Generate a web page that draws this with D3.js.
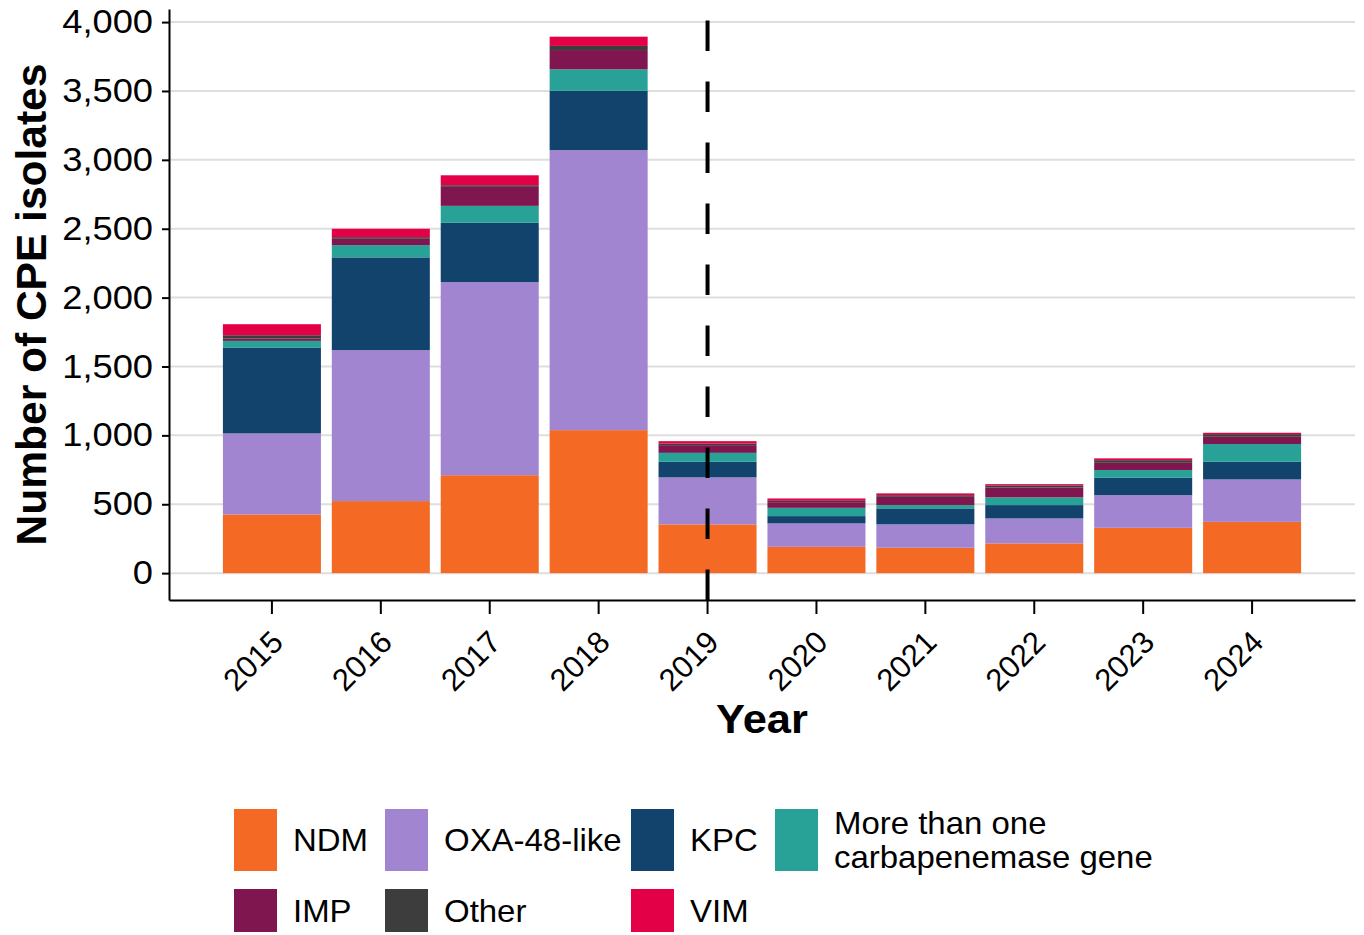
<!DOCTYPE html>
<html>
<head>
<meta charset="utf-8">
<script src="https://cdn.jsdelivr.net/npm/d3@7"></script>
<style>
  body { margin: 0; background: #fff; }
  text { font-family: "Liberation Sans", Arial, sans-serif; fill: #000; }
</style>
</head>
<body>
<svg id="chart" width="1364" height="935"></svg>
<script>
// years on the x axis
const years = ["2015", "2016", "2017", "2018", "2019", "2020", "2021", "2022", "2023", "2024"];

// isolates per carbapenemase group, one value per year
const ndm   = [426, 523, 711, 1038, 354, 191, 184, 216, 329, 372];
const oxa48 = [588, 1096, 1402, 2033, 341, 170, 170, 181, 237, 308];
const kpc   = [624, 673, 430, 430, 113, 53, 116, 97, 126, 128];
const multi = [48, 89, 123, 156, 65, 60, 24, 56, 56, 129];
const imp   = [17, 46, 138, 140, 56, 41, 60, 72, 53, 53];
const other = [24, 12, 12, 30, 12, 10, 12, 15, 19, 19];
const vim   = [80, 61, 72, 67, 17, 17, 13, 9, 13, 10];

const yTicks = [0, 500, 1000, 1500, 2000, 2500, 3000, 3500, 4000];
const markerYear = "2019";

const series = [
    {key: "NDM", label: ["NDM"], values: ndm, color: "#F46A25"},
    {key: "OXA", label: ["OXA-48-like"], values: oxa48, color: "#A285D1"},
    {key: "KPC", label: ["KPC"], values: kpc, color: "#12436D"},
    {key: "MULTI", label: ["More than one", "carbapenemase gene"], values: multi, color: "#28A197"},
    {key: "IMP", label: ["IMP"], values: imp, color: "#801650"},
    {key: "OTHER", label: ["Other"], values: other, color: "#3D3D3D"},
    {key: "VIM", label: ["VIM"], values: vim, color: "#E40046"}
];

// panel edges
const panelLeft = 169, panelRight = 1355, panelTop = 9, panelBottom = 600;

var svg = d3.select("#chart");

var x = d3.scaleBand()
    .domain(years)
    .range([panelLeft, panelRight])
    .paddingInner(0.1)
    .paddingOuter(0.495);

var y = d3.scaleLinear()
    .domain([-195, 4095])
    .range([panelBottom, panelTop]);

// table for d3.stack
var rows = years.map(function(yr, i){
    var row = {year: yr};
    series.forEach(function(s){ row[s.key] = s.values[i]; });
    return row;
});
var stacked = d3.stack().keys(series.map(function(s){ return s.key; }))(rows);

// gridlines
svg.append("g")
    .selectAll("line")
    .data(yTicks)
    .join("line")
    .attr("x1", panelLeft)
    .attr("x2", panelRight)
    .attr("y1", function(d){ return y(d); })
    .attr("y2", function(d){ return y(d); })
    .attr("stroke", "#DEDEDE")
    .attr("stroke-width", 2);

// bars
svg.append("g")
    .selectAll("g")
    .data(stacked)
    .join("g")
    .attr("fill", function(d, i){ return series[i].color; })
    .selectAll("rect")
    .data(function(d){ return d; })
    .join("rect")
    .attr("x", function(d){ return x(d.data.year); })
    .attr("width", x.bandwidth())
    .attr("y", function(d){ return y(d[1]); })
    .attr("height", function(d){ return y(d[0]) - y(d[1]); });

// dashed marker line
var mx = x(markerYear) + x.bandwidth() / 2;
svg.append("line")
    .attr("x1", mx)
    .attr("x2", mx)
    .attr("y1", panelBottom)
    .attr("y2", panelTop)
    .attr("stroke", "#000")
    .attr("stroke-width", 4)
    .attr("stroke-dasharray", "30.5,30.5");

// y axis
var yAxis = svg.append("g")
    .attr("transform", "translate(" + panelLeft + ",0)")
    .call(d3.axisLeft(y)
        .tickValues(yTicks)
        .tickFormat(d3.format(","))
        .tickSize(7)
        .tickSizeOuter(0));
yAxis.select(".domain").attr("stroke", "#000").attr("stroke-width", 2);
yAxis.selectAll(".tick line").attr("stroke", "#000").attr("stroke-width", 2);
// labels are a little wider in the original, so stretch them sideways
yAxis.selectAll(".tick text")
    .attr("x", 0)
    .attr("font-size", 33)
    .attr("fill", "#1a1a1a")
    .attr("transform", "translate(-16,0) scale(1.1,1)")
    .style("font-family", "Liberation Sans, Arial, sans-serif");

// x axis
var xAxis = svg.append("g")
    .attr("transform", "translate(0," + panelBottom + ")")
    .call(d3.axisBottom(x).tickSize(14).tickSizeOuter(0));
xAxis.select(".domain").attr("stroke", "#000").attr("stroke-width", 2);
xAxis.selectAll(".tick line").attr("stroke", "#000").attr("stroke-width", 2);
xAxis.selectAll(".tick text")
    .attr("font-size", 31)
    .attr("fill", "#1a1a1a")
    .attr("y", 0)
    .attr("dy", 0)
    .attr("text-anchor", "end")
    .attr("transform", "translate(13,44) rotate(-45)")
    .style("font-family", "Liberation Sans, Arial, sans-serif");

// axis titles
svg.append("text")
    .attr("transform", "translate(" + (panelLeft + panelRight) / 2 + ",733) scale(1.06,1)")
    .attr("text-anchor", "middle")
    .attr("font-size", 41)
    .attr("font-weight", "bold")
    .text("Year");

svg.append("text")
    .attr("transform", "translate(46," + (panelTop + panelBottom) / 2 + ") rotate(-90)")
    .attr("text-anchor", "middle")
    .attr("font-size", 42.5)
    .attr("font-weight", "bold")
    .text("Number of CPE isolates");

// legend, two rows of four columns
var keyX = [234, 385, 631, 775];
var rowTop = [809, 889];
var rowHeight = [62, 43];
var legend = svg.append("g");
series.forEach(function(s, i){
    var col = i % 4, row = Math.floor(i / 4);
    var g = legend.append("g");
    g.append("rect")
        .attr("x", keyX[col])
        .attr("y", rowTop[row])
        .attr("width", 43)
        .attr("height", rowHeight[row])
        .attr("fill", s.color);
    var cy = rowTop[row] + rowHeight[row] / 2;
    var lineGap = 34;
    var startY = cy - (s.label.length - 1) * lineGap / 2;
    s.label.forEach(function(line, j){
        g.append("text")
            .attr("transform", "translate(" + (keyX[col] + 59) + "," + (startY + j * lineGap) + ") scale(1.03,1)")
            .attr("dy", "0.35em")
            .attr("font-size", 32)
            .attr("fill", "#1a1a1a")
            .text(line);
    });
});
</script>
</body>
</html>
